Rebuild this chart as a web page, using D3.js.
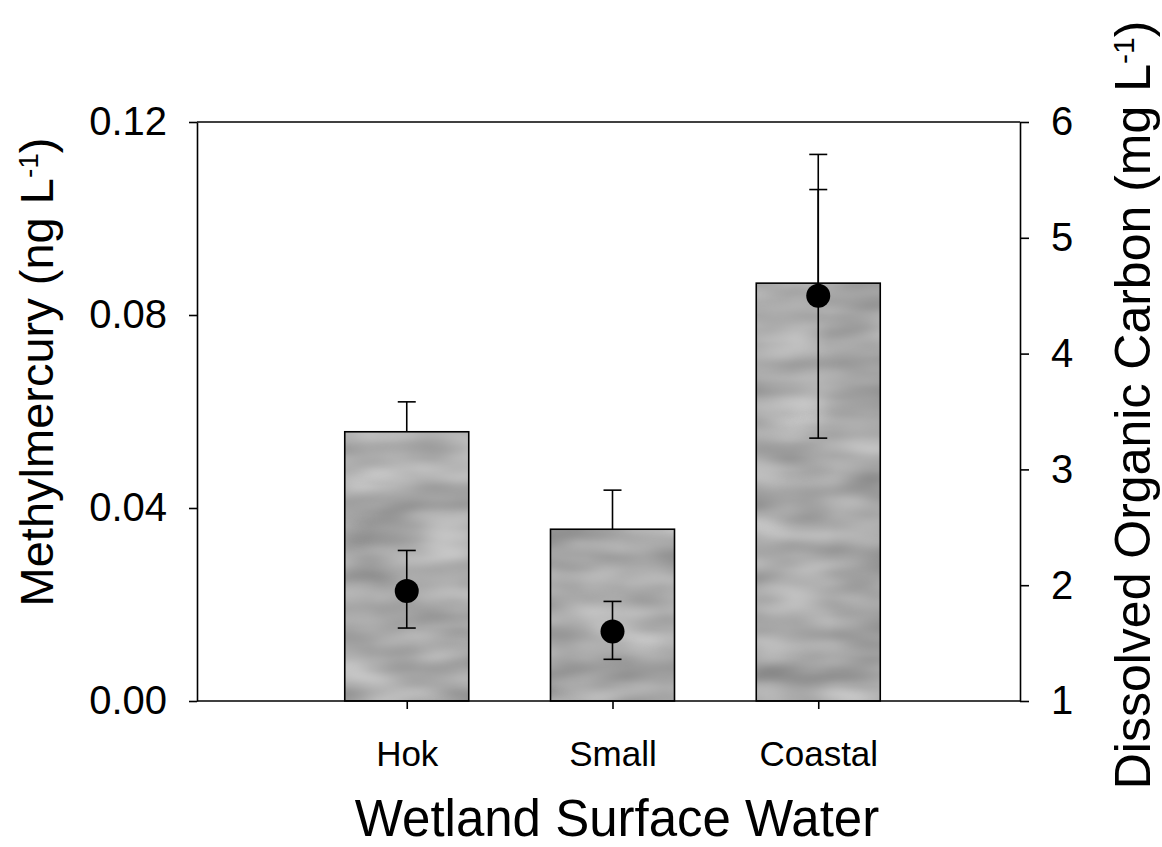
<!DOCTYPE html>
<html>
<head>
<meta charset="utf-8">
<script src="https://cdn.jsdelivr.net/npm/d3@7"></script>
<style>
  html, body { margin: 0; padding: 0; background: #fff; }
  svg { display: block; font-family: "Liberation Sans", Arial, sans-serif; }
</style>
</head>
<body>
<svg id="chart" width="1162" height="847"></svg>
<script>
// ---- data ----
const categories = ["Hok", "Small", "Coastal"];
const mehgMean = [0.0558, 0.0356, 0.0866];      // bars, left axis (ng/L)
const mehgErrTop = [0.0620, 0.0437, 0.1060];    // upper error bar ends
const docMean = [1.95, 1.60, 4.50];             // points, right axis (mg/L)
const docErrLow = [1.63, 1.36, 3.27];
const docErrHigh = [2.30, 1.86, 5.72];
const leftTicks = [0, 0.04, 0.08, 0.12];
const rightTicks = [1, 2, 3, 4, 5, 6];

// ---- layout ----
const svg = d3.select("#chart");
const L = 197, R = 1020, T = 122, B = 701;

const x = d3.scalePoint().domain(categories).range([201, 1024]).padding(1);
const barW = 124;
const yL = d3.scaleLinear().domain([0, 0.12]).range([B, T]);
const yR = d3.scaleLinear().domain([1, 6]).range([B, T]);

// mottled grey texture for bars
const defs = svg.append("defs");
const f = defs.append("filter").attr("id", "tex")
  .attr("x", 0).attr("y", 0).attr("width", "100%").attr("height", "100%")
  .attr("color-interpolation-filters", "sRGB");
f.append("feTurbulence").attr("type", "fractalNoise")
  .attr("baseFrequency", "0.012 0.035").attr("numOctaves", 2).attr("seed", 4)
  .attr("result", "n");
f.append("feColorMatrix").attr("in", "n").attr("type", "matrix")
  .attr("values", "0.35 0 0 0 0.49  0.35 0 0 0 0.49  0.35 0 0 0 0.49  0 0 0 0 1")
  .attr("result", "g");
f.append("feComposite").attr("in", "g").attr("in2", "SourceGraphic").attr("operator", "in");

// bars
const barG = svg.append("g");
barG.selectAll("rect.fill").data(categories).join("rect").attr("class", "fill")
  .attr("x", d => x(d) - barW / 2)
  .attr("y", (d, i) => yL(mehgMean[i]))
  .attr("width", barW)
  .attr("height", (d, i) => B - yL(mehgMean[i]))
  .attr("fill", "#a9a9a9")
  .attr("filter", "url(#tex)");
barG.selectAll("rect.edge").data(categories).join("rect").attr("class", "edge")
  .attr("x", d => x(d) - barW / 2)
  .attr("y", (d, i) => yL(mehgMean[i]))
  .attr("width", barW)
  .attr("height", (d, i) => B - yL(mehgMean[i]))
  .attr("fill", "none")
  .attr("stroke", "#000")
  .attr("stroke-width", 1.6);

// bar error bars (upper only)
const cap = 9;
const be = svg.append("g").attr("stroke", "#000").attr("stroke-width", 1.6);
categories.forEach((c, i) => {
  be.append("line").attr("x1", x(c)).attr("x2", x(c))
    .attr("y1", yL(mehgMean[i])).attr("y2", yL(mehgErrTop[i]));
  be.append("line").attr("x1", x(c) - cap).attr("x2", x(c) + cap)
    .attr("y1", yL(mehgErrTop[i])).attr("y2", yL(mehgErrTop[i]));
});

// DOC error bars
const de = svg.append("g").attr("stroke", "#000").attr("stroke-width", 1.6);
categories.forEach((c, i) => {
  de.append("line").attr("x1", x(c)).attr("x2", x(c))
    .attr("y1", yR(docErrLow[i])).attr("y2", yR(docErrHigh[i]));
  [docErrLow[i], docErrHigh[i]].forEach(v => {
    de.append("line").attr("x1", x(c) - cap).attr("x2", x(c) + cap)
      .attr("y1", yR(v)).attr("y2", yR(v));
  });
});

// DOC points
svg.append("g").selectAll("circle").data(categories).join("circle")
  .attr("cx", d => x(d))
  .attr("cy", (d, i) => yR(docMean[i]))
  .attr("r", 12)
  .attr("fill", "#000");

// top frame line
svg.append("line").attr("x1", L).attr("x2", R).attr("y1", T).attr("y2", T)
  .attr("stroke", "#000").attr("stroke-width", 1.6);

// axes
const tickFont = 40;
const gL = svg.append("g").attr("transform", `translate(${L},0)`)
  .call(d3.axisLeft(yL).tickValues(leftTicks).tickFormat(d3.format(".2f"))
    .tickSize(8).tickSizeOuter(0).tickPadding(22));
const gR = svg.append("g").attr("transform", `translate(${R},0)`)
  .call(d3.axisRight(yR).tickValues(rightTicks).tickFormat(d3.format("d"))
    .tickSize(9).tickSizeOuter(0).tickPadding(22));
const gB = svg.append("g").attr("transform", `translate(0,${B})`)
  .call(d3.axisBottom(x).tickSize(8).tickSizeOuter(0).tickPadding(32));
gB.select(".domain").attr("d", `M${L},0H${R}`);

[gL, gR, gB].forEach(g => {
  g.selectAll("path, line").attr("stroke", "#000").attr("stroke-width", 1.6);
  g.selectAll("text").attr("fill", "#000")
    .attr("font-family", '"Liberation Sans", Arial, sans-serif');
});
gL.selectAll("text").attr("font-size", tickFont);
gR.selectAll("text").attr("font-size", tickFont);
gB.selectAll("text").attr("font-size", 35);

// axis titles
const tl = svg.append("text")
  .attr("transform", "translate(53,372) rotate(-90)")
  .attr("text-anchor", "middle").attr("font-size", 47).attr("fill", "#000");
tl.append("tspan").text("Methylmercury (ng L");
tl.append("tspan").attr("baseline-shift", "super").attr("font-size", 28).text("-1");
tl.append("tspan").text(")");

const tr = svg.append("text")
  .attr("transform", "translate(1150,405) rotate(-90)")
  .attr("text-anchor", "middle").attr("font-size", 50).attr("fill", "#000");
tr.append("tspan").text("Dissolved Organic Carbon (mg L");
tr.append("tspan").attr("baseline-shift", "super").attr("font-size", 30).text("-1");
tr.append("tspan").text(")");

svg.append("text").attr("x", 617).attr("y", 836)
  .attr("text-anchor", "middle").attr("font-size", 51).attr("fill", "#000")
  .text("Wetland Surface Water");
</script>
</body>
</html>
